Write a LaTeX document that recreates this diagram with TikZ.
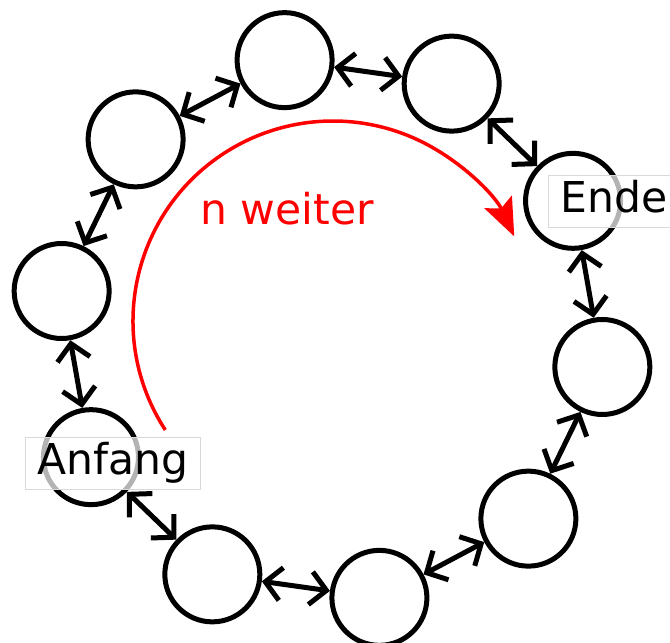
\documentclass[tikz,border=0pt]{standalone}
\usepackage{fontspec}
\setmainfont{DejaVu Sans}
\usetikzlibrary{arrows.meta,calc}
\tikzset{
  elem/.style={draw, circle, line width=5pt, minimum size=95pt, inner sep=0pt},
  link/.style={{Straight Barb[length=16pt,width=33pt]}-{Straight Barb[length=16pt,width=33pt]},
               line width=5pt},
  tag/.style={draw=gray!30, line width=0.8pt, fill=white, fill opacity=0.7, text opacity=1,
              font=\fontsize{42.5}{50}\selectfont, inner xsep=12pt, inner ysep=0pt,
              text height=38pt, text depth=14pt, anchor=base west},
  jump/.style={-{Stealth[length=38pt,width=30pt,inset=7pt]}, draw=red, line width=3.5pt},
}
\begin{document}
\begin{tikzpicture}[x=1pt,y=1pt]
  \useasboundingbox (0,0) rectangle (670,643);
  % ring of elements
  \foreach \i in {0,...,9}
    \node[elem] (e\i) at ($(332,314)+({100-36*\i}:273)$) {};
  % labels
  \node[tag] (start) at (25,168) {Anfang};
  \node[tag] (stop) at (548,430) {Ende};
  % links between neighbours
  \foreach \i [evaluate=\i as \j using {int(mod(\i+1,10))}] in {0,...,9}
    \draw[link] (e\i) -- (e\j);
  % skip n positions
  \coordinate (from) at ($(333,322)+(213:200)$);
  \draw[jump] (from) arc[start angle=213, end angle=25, radius=200];
  \node[text=red, font=\fontsize{42.5}{50}\selectfont, anchor=base] (skip) at (287,418) {n weiter};
\end{tikzpicture}
\end{document}
